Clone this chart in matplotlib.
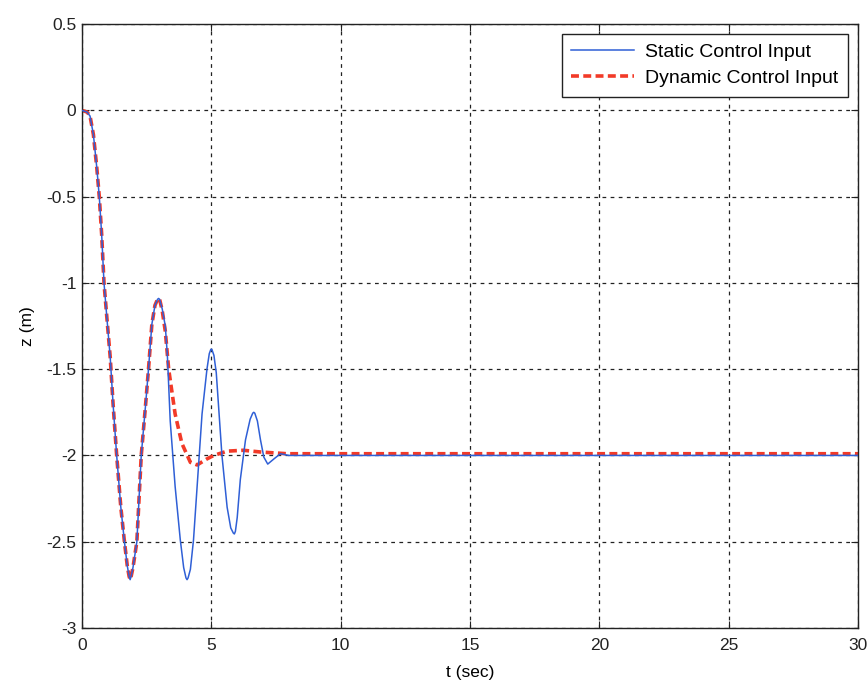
import numpy as np
import matplotlib.pyplot as plt

# values
t_static = [0, 0.2, 0.31, 0.44, 0.57, 0.67, 0.76, 0.85, 0.96, 1.09, 1.2, 1.34, 1.5, 1.64,
            1.75, 1.82, 1.86, 1.9, 1.97, 2.12, 2.29, 2.45, 2.57, 2.70, 2.82, 2.92, 2.96, 3.0,
            3.1, 3.22, 3.3, 3.41, 3.6, 3.8, 3.93, 4.02, 4.06, 4.1, 4.19, 4.31, 4.45, 4.64,
            4.83, 4.92, 4.98, 5.02, 5.1, 5.19, 5.41, 5.61, 5.75, 5.85, 5.89, 5.93, 6.0,
            6.12, 6.32, 6.5, 6.6, 6.64, 6.68, 6.78, 6.9, 7.03, 7.18, 7.42, 7.67, 8.0, 30]
z_static = [0, -0.01, -0.033, -0.14, -0.33, -0.505, -0.72, -1.0, -1.2, -1.43, -1.7, -2.0,
            -2.3, -2.5, -2.64, -2.7, -2.72, -2.7, -2.65, -2.5, -2.0, -1.72, -1.5, -1.24,
            -1.13, -1.095, -1.09, -1.095, -1.15, -1.25, -1.42, -1.80, -2.18, -2.49, -2.65,
            -2.71, -2.72, -2.71, -2.66, -2.49, -2.18, -1.76, -1.5, -1.41, -1.385, -1.385,
            -1.42, -1.52, -2.0, -2.3, -2.42, -2.45, -2.455, -2.44, -2.36, -2.14, -1.91, -1.79,
            -1.755, -1.75, -1.755, -1.8, -1.91, -2.01, -2.05, -2.02, -1.99, -2.0, -2.0]

t_dynamic = [0, 0.2, 0.31, 0.44, 0.57, 0.67, 0.76, 0.85, 0.96, 1.09, 1.2, 1.34, 1.5, 1.64,
             1.75, 1.82, 1.86, 1.9, 1.97, 2.12, 2.29, 2.45, 2.57, 2.70, 2.82, 2.92, 2.96,
             3.0, 3.1, 3.22, 3.35, 3.6, 3.86, 4.19, 4.45, 4.83, 5.09, 5.61, 6.24, 6.9, 7.93,
             30]
z_dynamic = [0, -0.01, -0.033, -0.14, -0.33, -0.505, -0.72, -1.0, -1.2, -1.43, -1.7, -2.0,
             -2.3, -2.5, -2.64, -2.7, -2.72, -2.7, -2.65, -2.5, -2.0, -1.72, -1.5, -1.24,
             -1.13, -1.095, -1.09, -1.095, -1.16, -1.28, -1.5, -1.76, -1.93, -2.04, -2.055,
             -2.02, -2.0, -1.975, -1.97, -1.98, -1.99, -1.99]

xticks = [0, 5, 10, 15, 20, 25, 30]
yticks = [-3, -2.5, -2, -1.5, -1, -0.5, 0, 0.5]
ytick_labels = ['-3', '-2.5', '-2', '-1.5', '-1', '-0.5', '0', '0.5']

plt.rcParams['font.family'] = ['Liberation Sans', 'DejaVu Sans']

fig = plt.figure(figsize=(8.67, 6.8), dpi=100)
ax = fig.add_axes([0.0946, 0.0765, 0.895, 0.888])

ax.plot(t_static, z_static, color='#2f5fd6', lw=1.1, label='Static Control Input', zorder=3)
ax.plot(t_dynamic, z_dynamic, color='#f23a28', lw=2.6, ls=(0, (2.2, 1.2)),
        label='Dynamic Control Input', zorder=2)

ax.set_xlim(0, 30)
ax.set_ylim(-3, 0.5)
ax.set_xticks(xticks)
ax.set_yticks(yticks)
ax.set_yticklabels(ytick_labels)
ax.tick_params(direction='in', top=True, right=True, labelsize=12.5, length=5, width=0.8,
               colors='#222222')
ax.tick_params(axis='x', pad=7)
ax.tick_params(axis='y', pad=4)
ax.grid(True, color='#222222', ls=(0, (3, 3.5)), lw=0.9)
for s in ax.spines.values():
    s.set_color('#222222')
    s.set_linewidth(1.0)

ax.set_xlabel('t (sec)', fontsize=12.5, labelpad=9)
ax.set_ylabel('z (m)', fontsize=12.5, labelpad=8)

leg = ax.legend(loc='upper right', fontsize=14, fancybox=False, framealpha=1,
                edgecolor='#222222', borderaxespad=0.5, handlelength=3.2,
                borderpad=0.5, labelspacing=0.42, handletextpad=0.6)
leg.get_frame().set_linewidth(1.0)

fig.savefig('out.png', dpi=100, facecolor='white')
